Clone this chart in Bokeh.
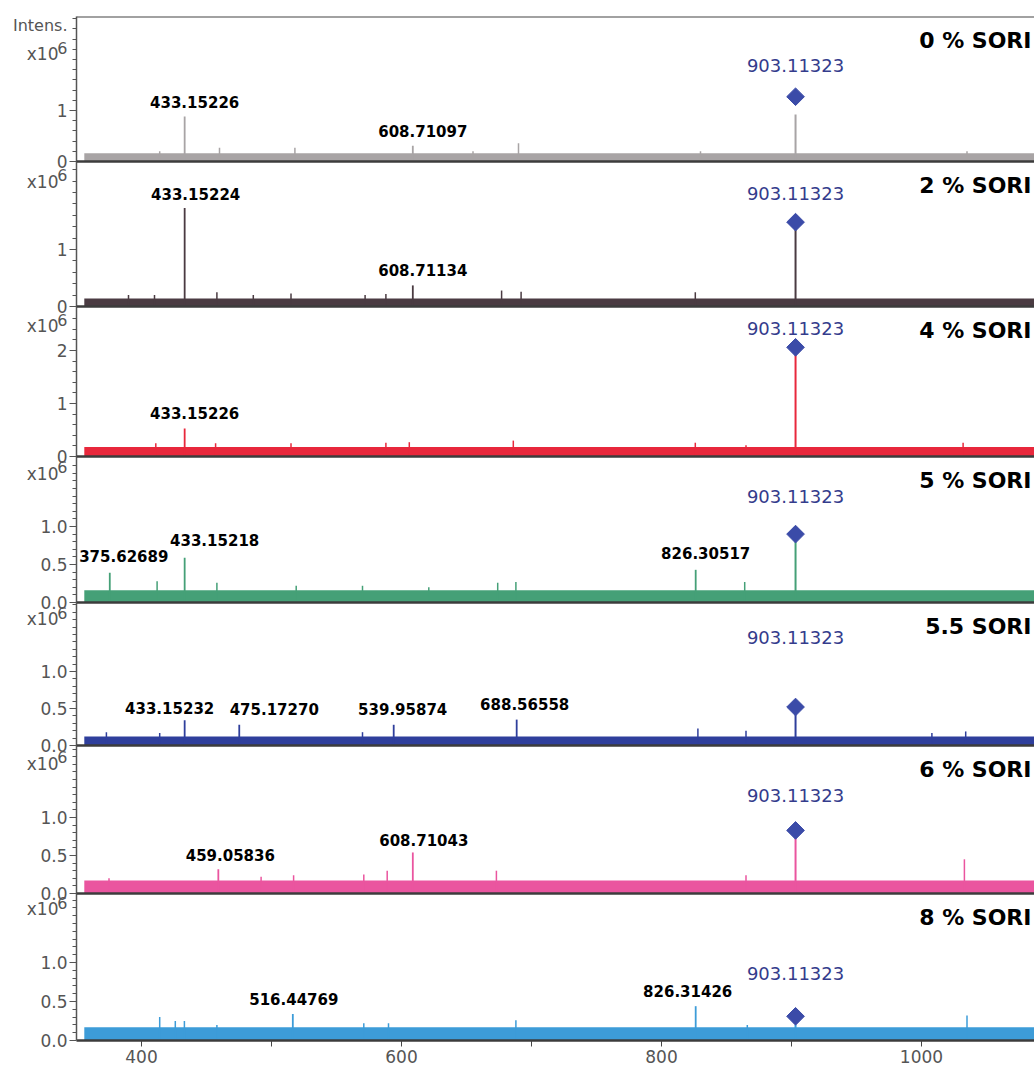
from math import pi
from bokeh.plotting import figure
from bokeh.models import (Range1d, FixedTicker, CustomJSTickFormatter, Span, LinearAxis,
                          ColumnDataSource)
from bokeh.core.properties import value
from bokeh.embed import file_html
from bokeh.resources import INLINE

# ---------------- data (intensities in units of 1e6) ----------------
mz_start, mz_end = 356.0, 1090.0
x_ticks = [400, 500, 600, 700, 800, 900, 1000]

panel_titles = ["0 % SORI", "2 % SORI", "4 % SORI", "5 % SORI", "5.5 SORI", "6 % SORI", "8 % SORI"]
y_title = "Intens."
y_exp_base = "x10"
y_exp_power = "6"

precursor_mz = 903.11323
precursor_label = "903.11323"
precursor_peak = [0.92, 1.45, 2.03, 0.80, 0.50, 0.75, 0.20]
precursor_marker = [1.27, 1.48, 2.06, 0.90, 0.52, 0.83, 0.31]

noise_level = [0.16, 0.14, 0.18, 0.16, 0.12, 0.17, 0.17]

# annotated peaks: label text, position, intensity
peak_label = [
    ["433.15226", "608.71097"],
    ["433.15224", "608.71134"],
    ["433.15226"],
    ["375.62689", "433.15218", "826.30517"],
    ["433.15232", "475.17270", "539.95874", "688.56558"],
    ["459.05836", "608.71043"],
    ["516.44769", "826.31426"],
]
peak_mz = [
    [433.2, 608.7],
    [433.2, 608.7],
    [433.2],
    [375.6, 433.2, 826.3],
    [433.2, 475.2, 594.0, 688.6],
    [459.1, 608.7],
    [516.4, 826.3],
]
peak_int = [
    [0.88, 0.31],
    [1.73, 0.37],
    [0.53],
    [0.39, 0.59, 0.43],
    [0.34, 0.28, 0.28, 0.35],
    [0.32, 0.54],
    [0.34, 0.44],
]

minor_mz = [
    [414, 460, 518, 655, 690, 830, 1035],
    [390, 410, 458, 486, 515, 572, 588, 677, 692, 826],
    [411, 457, 515, 588, 606, 686, 826, 865, 1032],
    [412, 458, 519, 570, 621, 674, 688, 864],
    [373, 414, 570, 828, 865, 1008, 1034],
    [375, 492, 517, 571, 589, 673, 865, 1033],
    [414, 426, 433, 458, 571, 590, 688, 866, 1035],
]
minor_int = [
    [0.20, 0.27, 0.27, 0.20, 0.36, 0.20, 0.20],
    [0.20, 0.20, 0.25, 0.20, 0.23, 0.20, 0.22, 0.28, 0.26, 0.25],
    [0.25, 0.25, 0.25, 0.26, 0.27, 0.30, 0.26, 0.21, 0.26],
    [0.28, 0.26, 0.22, 0.22, 0.20, 0.26, 0.27, 0.27],
    [0.18, 0.17, 0.18, 0.23, 0.20, 0.17, 0.19],
    [0.20, 0.22, 0.24, 0.25, 0.30, 0.30, 0.24, 0.45],
    [0.30, 0.25, 0.25, 0.20, 0.22, 0.22, 0.26, 0.20, 0.32],
]

y_major = [[0, 1], [0, 1], [0, 1, 2], [0.0, 0.5, 1.0], [0.0, 0.5, 1.0], [0.0, 0.5, 1.0], [0.0, 0.5, 1.0]]
y_major_labels = [["0", "1"], ["0", "1"], ["0", "1", "2"],
                  ["0.0", "0.5", "1.0"], ["0.0", "0.5", "1.0"], ["0.0", "0.5", "1.0"], ["0.0", "0.5", "1.0"]]
y_minor_step = [0.2, 0.2, 0.2, 0.1, 0.1, 0.1, 0.1]

# ---------------- layout / style ----------------
panel_px = [145, 145, 150, 146, 143, 148, 147]
px_per_unit = [51, 57, 53, 76, 74, 76, 78]
colors = ["#a8a4a5", "#4a3b42", "#e8283c", "#45a077", "#2f3f9c", "#ea559f", "#3d9cd8"]
label_dx = [[10, 10], [11, 10], [10], [14, 30, 10], [-15, 35, 9, 8], [12, 11], [1, -8]]
label_dy = [[-15, -15], [-14, -15], [-15], [-17, -18, -17], [-12, -16, -16, -16], [-14, -12], [-15, -15]]
blue_off = [31, 29, 19, 38, 70, 35, 43]
base_below_top = [37, 20, 19, 17, 16, 18, 15]
power_below_top = [32, 14, 14, 11, 11, 12, 10]
diamond_color = "#3b4ba8"
blue_text = "#343c8c"
tick_color = "#555555"
FONT = "DejaVu Sans"

W = 1034
LEFT = 76
TOP = 16
AXIS_H = 28
F = sum(panel_px)
ppx = 1.30
x0 = 400 - (141 - LEFT) / ppx
x1 = x0 + (W - LEFT) / ppx

bottoms = [0] * 7
for i in range(5, -1, -1):
    bottoms[i] = bottoms[i + 1] + panel_px[i + 1]
tops = [bottoms[i] + panel_px[i] for i in range(7)]

p = figure(width=W, height=TOP + F + AXIS_H, x_range=Range1d(x0, x1), y_range=Range1d(0, F),
           min_border_left=LEFT, min_border_right=0, min_border_top=TOP, min_border_bottom=AXIS_H,
           output_backend="svg", toolbar_location=None)
p.grid.visible = False
p.outline_line_color = None
p.background_fill_color = "white"
p.border_fill_color = "white"

major_pos, major_lab, minor_pos = [], [], []
base_pos, base_lab = [], []
pow_pos, pow_lab = [F - 9], [y_title]

for i in range(7):
    rn = f"p{i}"
    b, s = bottoms[i], px_per_unit[i]
    p.extra_y_ranges[rn] = Range1d(-b / s, (F - b) / s)
    col = colors[i]

    p.quad(left=[mz_start], right=[mz_end], bottom=[0], top=[noise_level[i]],
           y_range_name=rn, fill_color=col, line_color=None)
    p.segment(x0=minor_mz[i], y0=[0] * len(minor_mz[i]), x1=minor_mz[i], y1=minor_int[i],
              y_range_name=rn, line_color=col, line_width=1.5)
    p.segment(x0=peak_mz[i], y0=[0] * len(peak_mz[i]), x1=peak_mz[i], y1=peak_int[i],
              y_range_name=rn, line_color=col, line_width=1.8)
    p.segment(x0=[precursor_mz], y0=[0], x1=[precursor_mz], y1=[precursor_peak[i]],
              y_range_name=rn, line_color=col, line_width=2)
    p.scatter(x=[precursor_mz], y=[precursor_marker[i]], marker="square", angle=pi / 4, size=12.5,
              fill_color=diamond_color, line_color=diamond_color, y_range_name=rn)

    src = ColumnDataSource(dict(x=peak_mz[i], y=peak_int[i], t=peak_label[i],
                                dx=label_dx[i], dy=label_dy[i]))
    p.text(x="x", y="y", text="t", x_offset="dx", y_offset="dy", source=src, y_range_name=rn,
           text_font=value(FONT), text_font_style="bold", text_font_size="15px",
           text_align="center", text_baseline="middle", text_color="black")
    p.text(x=[precursor_mz], y=[precursor_marker[i]], text=[precursor_label], y_offset=-blue_off[i],
           y_range_name=rn, text_font=value(FONT), text_font_size="18px",
           text_align="center", text_baseline="middle", text_color=blue_text)
    p.text(x=[x1], y=[tops[i]], text=[panel_titles[i]], x_offset=-3, y_offset=24,
           text_font=value(FONT), text_font_style="bold", text_font_size="22px",
           text_align="right", text_baseline="middle", text_color="black")

    for t, lab in zip(y_major[i], y_major_labels[i]):
        major_pos.append(b + t * s)
        major_lab.append(lab)
    k = 1
    while True:
        v = k * y_minor_step[i]
        if b + v * s >= tops[i] - 2:
            break
        if all(abs(v - t) > 1e-6 for t in y_major[i]):
            minor_pos.append(b + v * s)
        k += 1
    base_pos.append(tops[i] - base_below_top[i])
    base_lab.append(y_exp_base)
    pow_pos.append(tops[i] - power_below_top[i])
    pow_lab.append(y_exp_power)

    if i < 6:
        p.add_layout(Span(location=b, dimension="width", line_color="#3c3c3c", line_width=2.5))

p.add_layout(Span(location=F, dimension="width", line_color="#444444", line_width=2))

LOOKUP = """
let best = ''; let d = 1e9;
for (let i = 0; i < pos.length; i++) { const dd = Math.abs(pos[i] - tick); if (dd < d) { d = dd; best = lab[i]; } }
return best;
"""

yax = p.yaxis[0]
yax.ticker = FixedTicker(ticks=major_pos, minor_ticks=minor_pos)
yax.formatter = CustomJSTickFormatter(args=dict(pos=major_pos, lab=major_lab), code=LOOKUP)
yax.axis_line_color = tick_color
yax.axis_line_width = 1.5
yax.major_tick_line_color = tick_color
yax.minor_tick_line_color = tick_color
yax.major_tick_out = 7
yax.major_tick_in = 0
yax.minor_tick_out = 4
yax.minor_tick_in = 0
yax.major_label_standoff = 2
yax.major_label_text_font = FONT
yax.major_label_text_font_size = "17px"
yax.major_label_text_color = tick_color


def label_axis(pos, lab, standoff, size):
    ax = LinearAxis(ticker=FixedTicker(ticks=pos, minor_ticks=[]),
                    formatter=CustomJSTickFormatter(args=dict(pos=pos, lab=lab), code=LOOKUP))
    ax.axis_line_color = None
    ax.major_tick_line_color = None
    ax.minor_tick_line_color = None
    ax.major_tick_out = 0
    ax.major_tick_in = 0
    ax.minor_tick_out = 0
    ax.minor_tick_in = 0
    ax.major_label_standoff = standoff
    ax.major_label_text_font = FONT
    ax.major_label_text_font_size = size
    ax.major_label_text_color = tick_color
    p.add_layout(ax, "left")


# "x10" labels, then "6" superscripts and "Intens." pulled in over the tick-label column
label_axis(base_pos, base_lab, -21, "17px")
label_axis(pow_pos, pow_lab, -44, "16px")

xax = p.xaxis[0]
xax.ticker = FixedTicker(ticks=x_ticks, minor_ticks=[])
xax.formatter = CustomJSTickFormatter(code="const t = Math.round(tick); return (t % 200 == 0) ? String(t) : '';")
xax.axis_line_color = "#3c3c3c"
xax.axis_line_width = 2.5
xax.major_tick_line_color = "#444444"
xax.major_tick_out = 6
xax.major_tick_in = 0
xax.major_label_standoff = 3
xax.major_label_text_font = FONT
xax.major_label_text_font_size = "17px"
xax.major_label_text_color = tick_color

open("out.html", "w").write(file_html(p, INLINE))
